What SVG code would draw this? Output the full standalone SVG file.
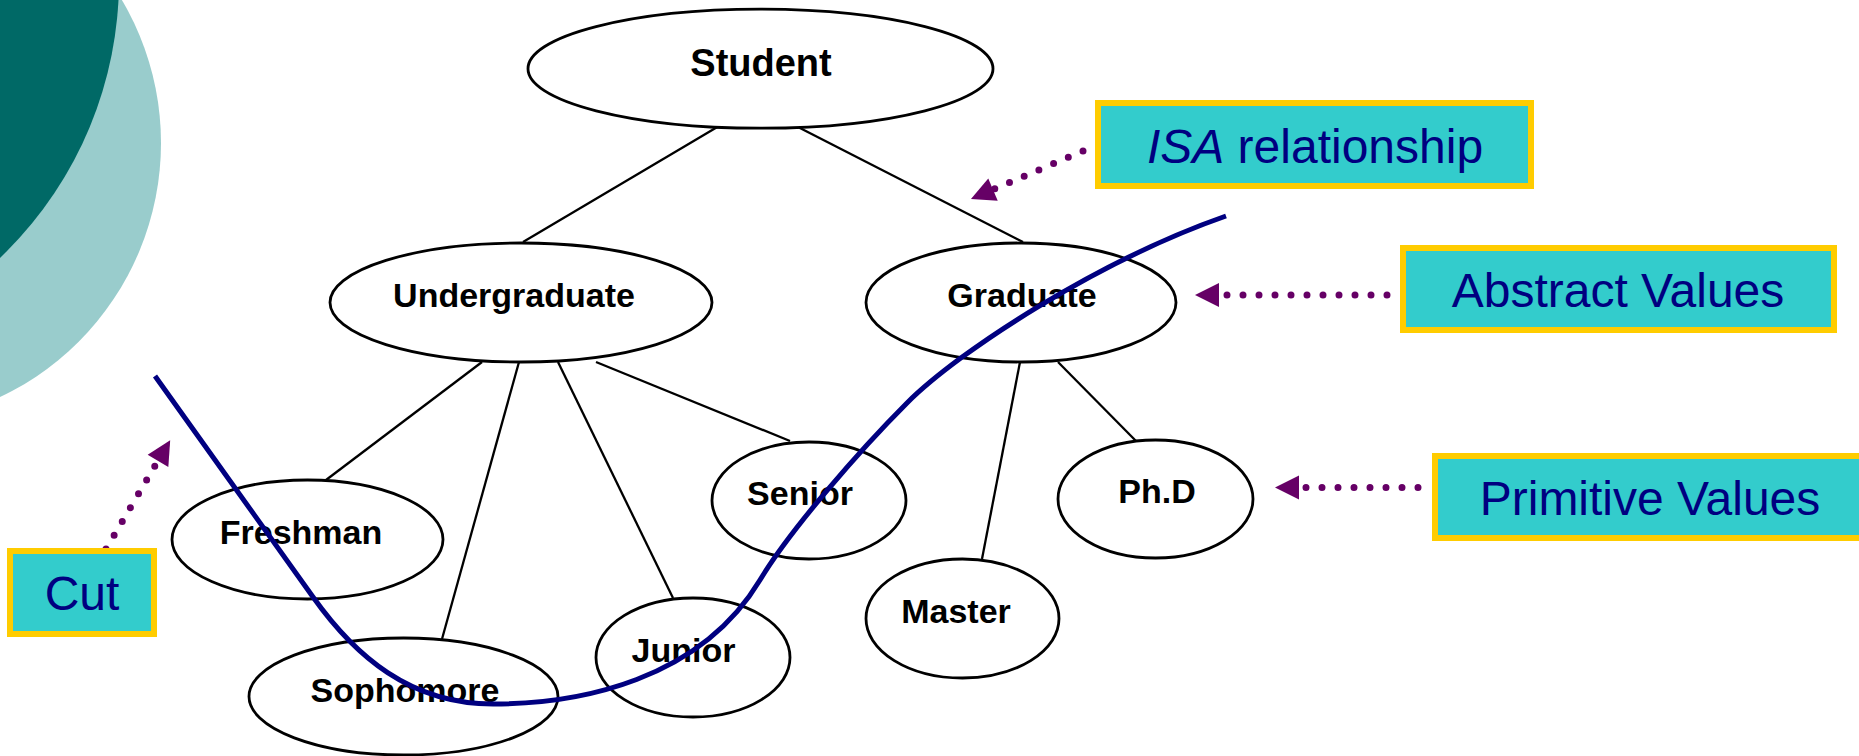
<svg xmlns="http://www.w3.org/2000/svg" width="1859" height="756" viewBox="0 0 1859 756">
  <style>
    .node ellipse { fill: #ffffff; stroke: #000000; stroke-width: 2.8; }
    .node text { font-family: "Liberation Sans", Arial, sans-serif; font-weight: bold; font-size: 34px; fill: #000000; text-anchor: middle; }
    .edge { stroke: #000000; stroke-width: 2.3; fill: none; }
    .dots { stroke: #660066; stroke-width: 7; stroke-linecap: round; stroke-dasharray: 0 16; fill: none; }
    .label rect { fill: #33CCCC; stroke: #FFCC00; stroke-width: 6; }
    .label text { font-family: "Liberation Sans", Arial, sans-serif; font-size: 48px; fill: #000080; text-anchor: middle; }
    .cut { stroke: #000080; stroke-width: 5; fill: none; }
  </style>
  <defs>
    <marker id="ah" markerUnits="userSpaceOnUse" markerWidth="24" markerHeight="24" refX="0" refY="12" orient="auto" viewBox="0 0 24 24" overflow="visible">
      <path d="M0,0 L24,12 L0,24 Z" fill="#660066"/>
    </marker>
  </defs>
  <rect width="1859" height="756" fill="#ffffff"/>

  <g id="decoration">
    <circle cx="-120" cy="143" r="281" fill="#99CCCC"/>
    <circle cx="-265" cy="-20" r="384" fill="#006966"/>
  </g>

  <g id="connectors">
    <line class="edge" x1="719" y1="126" x2="523" y2="242"/>
    <line class="edge" x1="796" y1="126" x2="1023" y2="242"/>
    <line class="edge" x1="482" y1="362" x2="326" y2="480"/>
    <line class="edge" x1="519" y1="362" x2="442" y2="639"/>
    <line class="edge" x1="558" y1="362" x2="673" y2="598"/>
    <line class="edge" x1="596" y1="362" x2="790" y2="441"/>
    <line class="edge" x1="1020" y1="362" x2="982" y2="559"/>
    <line class="edge" x1="1058" y1="362" x2="1136" y2="441"/>
  </g>

  <g id="node-student" class="node">
    <ellipse cx="760.5" cy="68.7" rx="232.5" ry="59.5"/>
    <text x="761" y="76" style="font-size:38px">Student</text>
  </g>
  <g id="node-undergraduate" class="node">
    <ellipse cx="521" cy="302.5" rx="191" ry="59.5"/>
    <text x="514" y="307">Undergraduate</text>
  </g>
  <g id="node-graduate" class="node">
    <ellipse cx="1021" cy="302.5" rx="155" ry="59.5"/>
    <text x="1022" y="307">Graduate</text>
  </g>
  <g id="node-freshman" class="node">
    <ellipse cx="307.5" cy="539.5" rx="135.5" ry="59.5"/>
    <text x="301" y="544">Freshman</text>
  </g>
  <g id="node-sophomore" class="node">
    <ellipse cx="403.5" cy="696.5" rx="154.5" ry="58.5"/>
    <text x="405" y="702">Sophomore</text>
  </g>
  <g id="node-junior" class="node">
    <ellipse cx="693" cy="657.5" rx="97" ry="59.5"/>
    <text x="683.5" y="662">Junior</text>
  </g>
  <g id="node-senior" class="node">
    <ellipse cx="809" cy="500.5" rx="97" ry="58.5"/>
    <text x="800" y="505">Senior</text>
  </g>
  <g id="node-master" class="node">
    <ellipse cx="962.5" cy="618.5" rx="96.5" ry="59.5"/>
    <text x="956" y="623">Master</text>
  </g>
  <g id="node-phd" class="node">
    <ellipse cx="1155.5" cy="499" rx="97.5" ry="59"/>
    <text x="1157" y="503">Ph.D</text>
  </g>

  <g id="pointers">
    <path class="dots" d="M1083,151 L993,189.6" marker-end="url(#ah)"/>
    <path class="dots" d="M1387,295 L1219,295" marker-end="url(#ah)"/>
    <path class="dots" d="M1418,487.5 L1299,487.5" marker-end="url(#ah)"/>
    <path class="dots" d="M106,549 L158,460.8" marker-end="url(#ah)"/>
  </g>

  <g id="label-isa" class="label">
    <rect x="1098" y="103" width="433" height="83"/>
    <text x="1315" y="163"><tspan font-style="italic">ISA</tspan> relationship</text>
  </g>
  <g id="label-abstract" class="label">
    <rect x="1403" y="248" width="431" height="82"/>
    <text x="1618" y="307">Abstract Values</text>
  </g>
  <g id="label-primitive" class="label">
    <rect x="1435" y="456" width="440" height="82"/>
    <text x="1650" y="515">Primitive Values</text>
  </g>
  <g id="label-cut" class="label">
    <rect x="10" y="551" width="144" height="83"/>
    <text x="82" y="610">Cut</text>
  </g>

  <g id="cut-line">
    <path class="cut" d="M155,376 L313,597 C355,656 410,704 493,704 C580,704 700,680 760,580 C790,530 860,450 907,403 C960,350 1100,260 1226,216"/>
  </g>
</svg>
